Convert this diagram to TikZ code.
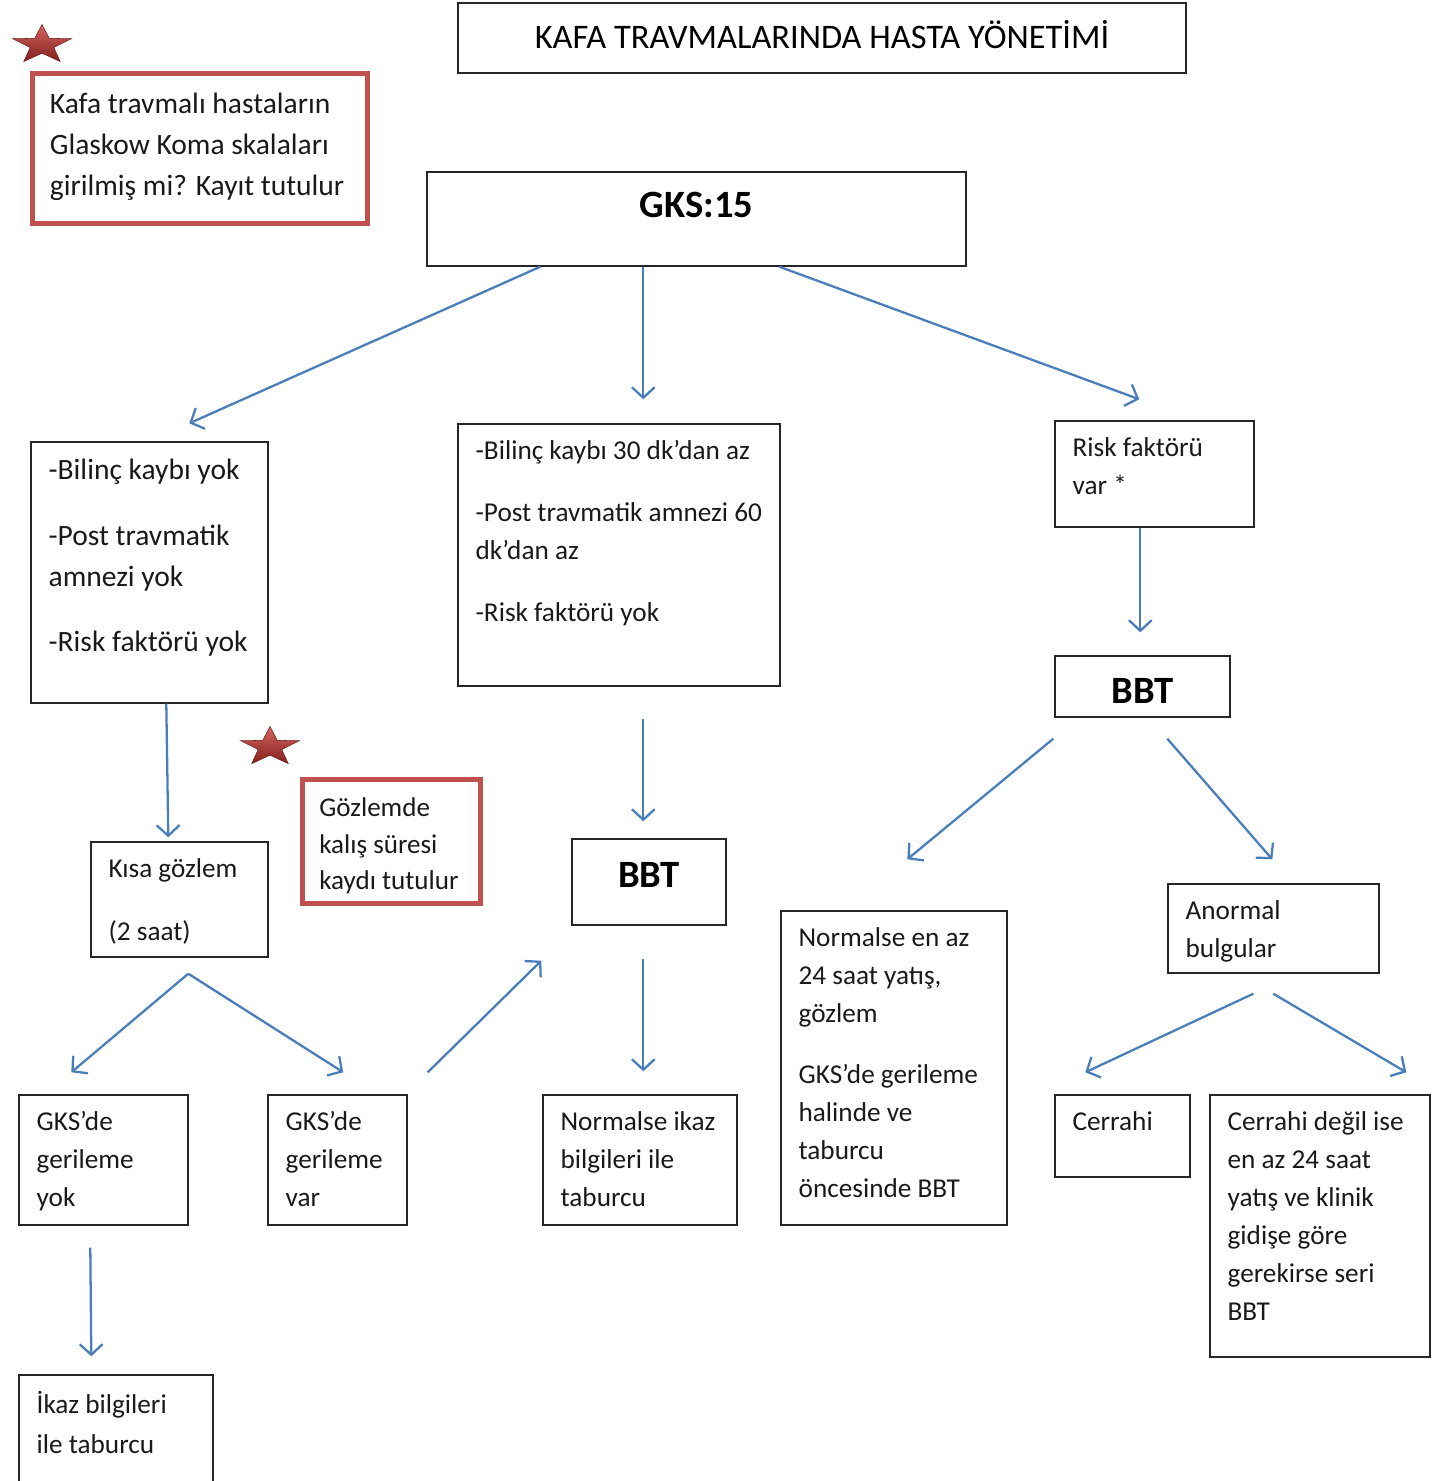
\documentclass[tikz,border=0pt]{standalone}
\usepackage{fontspec}
\setmainfont{Carlito}
\usetikzlibrary{arrows.meta, positioning, shapes.geometric, fit, calc}
\definecolor{arrowblue}{HTML}{4A7EBB}
\definecolor{notered}{HTML}{C0504D}
\definecolor{boxline}{HTML}{262626}
\definecolor{starred}{HTML}{C8312B}
\tikzset{
  box/.style={
    rectangle,
    draw=boxline,
    line width=0.8pt,
    inner sep=0pt
  },
  notebox/.style={
    rectangle,
    draw=notered,
    line width=2.8pt,
    inner sep=0pt
  },
  txt/.style={
    anchor=north west,
    align=left,
    inner xsep=0.36cm,
    inner ysep=0.34cm,
    text=black!90,
    font=\fontsize{15.5}{21.6}\selectfont
  },
  bigtxt/.style={
    txt,
    inner ysep=0.35cm,
    font=\fontsize{16.8}{23.3}\selectfont
  },
  headtxt/.style={
    font=\bfseries\fontsize{22}{26}\selectfont
  },
  starmark/.style={
    star,
    star points=5,
    star point ratio=2.5,
    minimum size=1.24cm,
    inner sep=0pt,
    top color=starred!75!white,
    bottom color=starred!65!black,
    draw=starred!55!black,
    line width=0.3pt
  },
  arrow/.style={-{Straight Barb[length=6pt, width=13pt]}, draw=arrowblue, line width=1.3pt}
}
\begin{document}
\begin{tikzpicture}[x=0.02cm, y=-0.02cm]
  \useasboundingbox (0,0) rectangle (1446,1481);
  \clip (0,0) rectangle (1446,1481);

  % title and remarks
  \node[box, fit={(458,3) (1186,73)},
    label={[anchor=center, yshift=0.06cm, font=\fontsize{19.6}{23}\selectfont]center:{KAFA TRAVMALARINDA HASTA YÖNETİMİ}}] (title) {};
  \node[notebox, fit={(32.5,73.5) (367.5,223.5)},
    label={[bigtxt, inner xsep=0.39cm, inner ysep=0.44cm]north west:{Kafa travmalı hastaların\\Glaskow Koma skalaları\\girilmiş mi? Kayıt tutulur}}] (note1) {};
  \node[notebox, fit={(302.5,779.5) (480.5,903.5)},
    label={[txt, inner xsep=0.38cm, inner ysep=0.4cm, font=\fontsize{15.4}{21}\selectfont]north west:{Gözlemde\\kalış süresi\\kaydı tutulur}}] (note2) {};
  \begin{scope}[shift={(42,45)}, yscale=0.66]
    \node[starmark, transform shape] (star1) at (0,0) {};
  \end{scope}
  \begin{scope}[shift={(270,747)}, yscale=0.66]
    \node[starmark, transform shape] (star2) at (0,0) {};
  \end{scope}

  % first level
  \node[box, fit={(427,172) (966,266)},
    label={[anchor=north, inner ysep=0.41cm, headtxt]north:{GKS:15}}] (gks) {};
  \node[box, fit={(31,442) (268,703)},
    label={[bigtxt]north west:{-Bilinç kaybı yok\\[14pt]-Post travmatik\\amnezi yok\\[14pt]-Risk faktörü yok}}] (nobil) {};
  \node[box, fit={(458,424) (780,686)},
    label={[txt]north west:{-Bilinç kaybı 30 dk’dan az\\[13.5pt]-Post travmatik amnezi 60\\dk’dan az\\[13.5pt]-Risk faktörü yok}}] (mild) {};
  \node[box, fit={(1055,421) (1254,527)},
    label={[txt]north west:{Risk faktörü\\var *}}] (risk) {};

  % second level
  \node[box, fit={(91,842) (268,957)},
    label={[txt]north west:{Kısa gözlem\\[14pt](2 saat)}}] (kisa) {};
  \node[box, fit={(572,839) (726,925)},
    label={[anchor=center, yshift=0.14cm, headtxt]center:BBT}] (bbtm) {};
  \node[box, fit={(1055,656) (1230,717)},
    label={[anchor=center, yshift=-0.08cm, headtxt]center:BBT}] (bbtr) {};
  \node[box, fit={(781,911) (1007,1225)},
    label={[txt]north west:{Normalse en az\\24 saat yatış,\\gözlem\\[13pt]GKS’de gerileme\\halinde ve\\taburcu\\öncesinde BBT}}] (normal) {};
  \node[box, fit={(1168,884) (1379,973)},
    label={[txt]north west:{Anormal\\bulgular}}] (anormal) {};

  % third level
  \node[box, fit={(19,1095) (188,1225)},
    label={[txt]north west:{GKS’de\\gerileme\\yok}}] (yok) {};
  \node[box, fit={(268,1095) (407,1225)},
    label={[txt]north west:{GKS’de\\gerileme\\var}}] (var) {};
  \node[box, fit={(543,1095) (737,1225)},
    label={[txt]north west:{Normalse ikaz\\bilgileri ile\\taburcu}}] (taburcu) {};
  \node[box, fit={(1055,1095) (1190,1177)},
    label={[txt]north west:{Cerrahi}}] (cerrahi) {};
  \node[box, fit={(1210,1095) (1430,1357)},
    label={[txt]north west:{Cerrahi değil ise\\en az 24 saat\\yatış ve klinik\\gidişe göre\\gerekirse seri\\BBT}}] (nocer) {};
  \node[box, fit={(19,1375) (213,1500)},
    label={[txt, font=\fontsize{15.5}{22.8}\selectfont]north west:{İkaz bilgileri\\ile taburcu}}] (ikaz) {};

  % arrows
  \draw[arrow] ($(gks.south west)+(114,0)$) -- ($(nobil.north west)+(159,-18)$);
  \draw[arrow] ($(gks.south west)+(217,0)$) -- ($(mild.north west)+(186,-24)$);
  \draw[arrow] ($(gks.south west)+(353,0)$) -- ($(risk.north west)+(85,-21)$);
  \draw[arrow] ($(risk.south west)+(86,0)$) -- ($(bbtr.north west)+(86,-23)$);
  \draw[arrow] ($(nobil.south west)+(136,0)$) -- ($(kisa.north west)+(78,-4)$);
  \draw[arrow] ($(mild.south west)+(186,32)$) -- ($(bbtm.north west)+(72,-17)$);
  \draw[arrow] ($(bbtr.south west)+(-1,21)$) -- ($(normal.north west)+(127,-51)$);
  \draw[arrow] ($(bbtr.south west)+(113,21)$) -- ($(anormal.north west)+(105,-24)$);
  \draw[arrow] ($(kisa.south west)+(98,16)$) -- ($(yok.north west)+(53,-22)$);
  \draw[arrow] ($(kisa.south west)+(98,16)$) -- ($(var.north west)+(76,-22)$);
  \draw[arrow] ($(var.north east)+(20,-22)$) -- ($(bbtm.south west)+(-30,35)$);
  \draw[arrow] ($(bbtm.south west)+(72,33)$) -- ($(taburcu.north west)+(101,-23)$);
  \draw[arrow] ($(anormal.south west)+(86,20)$) -- ($(cerrahi.north west)+(31,-22)$);
  \draw[arrow] ($(anormal.south west)+(106,20)$) -- ($(nocer.north west)+(197,-22)$);
  \draw[arrow] ($(yok.south west)+(72,22)$) -- ($(ikaz.north west)+(73,-18)$);
\end{tikzpicture}
\end{document}
